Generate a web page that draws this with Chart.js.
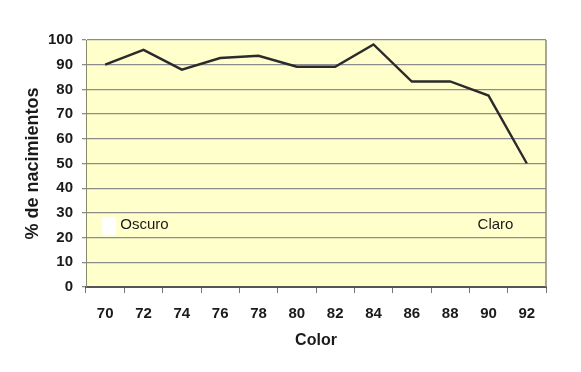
<!DOCTYPE html>
<html>
<head>
<meta charset="utf-8">
<script src="https://cdn.jsdelivr.net/npm/chart.js@4"></script>
<style>
  html, body { margin: 0; padding: 0; background: #fff; }
  #wrap { width: 581px; height: 372px; position: relative; }
</style>
</head>
<body>
<div id="wrap"><canvas id="c"></canvas></div>
<script>
// Data
const colors = ["70", "72", "74", "76", "78", "80", "82", "84", "86", "88", "90", "92"];
const births = [90, 96, 88, 92.7, 93.6, 89.2, 89.2, 98.2, 83.2, 83.2, 77.5, 50];
const yTicks = [0, 10, 20, 30, 40, 50, 60, 70, 80, 90, 100];
const notes = [
  { text: "Oscuro", cat: "72", y: 25 },
  { text: "Claro", cat: "90", y: 25 },
];

const font = "Arial, 'Liberation Sans', sans-serif";
const ink = "#1a1a1a", grid = "#8c8c8c";

// plot background, right border + the two text notes inside the plot
const decor = {
  id: "decor",
  beforeDraw(chart) {
    const { ctx, chartArea: a } = chart;
    ctx.save();
    ctx.fillStyle = "#ffffcc";
    ctx.fillRect(a.left, a.top, a.right - a.left, a.bottom - a.top);
    ctx.restore();
  },
  afterDatasetsDraw(chart) {
    const { ctx, chartArea: a, scales: { x, y } } = chart;
    ctx.save();
    ctx.strokeStyle = "#8a8a7a";
    ctx.lineWidth = 1.5;
    ctx.beginPath();
    ctx.moveTo(a.right, a.top);
    ctx.lineTo(a.right, a.bottom);
    ctx.stroke();
    // white patch left of "Oscuro"
    const px0 = x.getPixelForValue(0), py = y.getPixelForValue(25);
    ctx.fillStyle = "#ffffff";
    ctx.fillRect(px0 - 3, py - 8, 14, 18);
    ctx.font = "15px " + font;
    ctx.fillStyle = ink;
    ctx.textAlign = "center";
    ctx.textBaseline = "middle";
    notes.forEach((n, i) => {
      const px = x.getPixelForValue(colors.indexOf(n.cat)) + (i ? 7 : 1);
      ctx.fillText(n.text, px, y.getPixelForValue(n.y));
    });
    ctx.restore();
  },
};

new Chart(document.getElementById("c"), {
  type: "line",
  data: {
    labels: colors,
    datasets: [{
      data: births,
      borderColor: "#2b2b2b",
      borderWidth: 2.4,
      pointRadius: 0,
      tension: 0,
      fill: false,
    }],
  },
  options: {
    responsive: true,
    maintainAspectRatio: false,
    animation: false,
    layout: { padding: { left: 0, right: 35, top: 40, bottom: 0 } },
    plugins: { legend: { display: false }, tooltip: { enabled: false } },
    scales: {
      x: {
        type: "category",
        offset: true,
        grid: { offset: true, drawOnChartArea: false, drawTicks: true, tickLength: 6, color: "#777" },
        border: { color: "#555", width: 2 },
        ticks: { color: ink, padding: 12, font: { family: font, size: 15, weight: "bold" }, maxRotation: 0 },
        title: { display: true, text: "Color", color: ink, padding: { bottom: 22 }, font: { family: font, size: 16, weight: "bold" } },
        afterFit: (s) => { s.height = 85; },
      },
      y: {
        min: 0, max: 100,
        afterBuildTicks: (s) => { s.ticks = yTicks.map((v) => ({ value: v })); },
        grid: { color: grid, lineWidth: 1.3, tickLength: 4 },
        border: { color: "#8a8a6a", width: 1 },
        ticks: { color: ink, padding: 9, font: { family: font, size: 15, weight: "bold" } },
        title: { display: true, text: "% de nacimientos", color: ink, padding: { top: 22 }, font: { family: font, size: 18, weight: "bold" } },
        afterFit: (s) => { s.width = 86; },
      },
    },
  },
  plugins: [decor],
});
</script>
</body>
</html>
